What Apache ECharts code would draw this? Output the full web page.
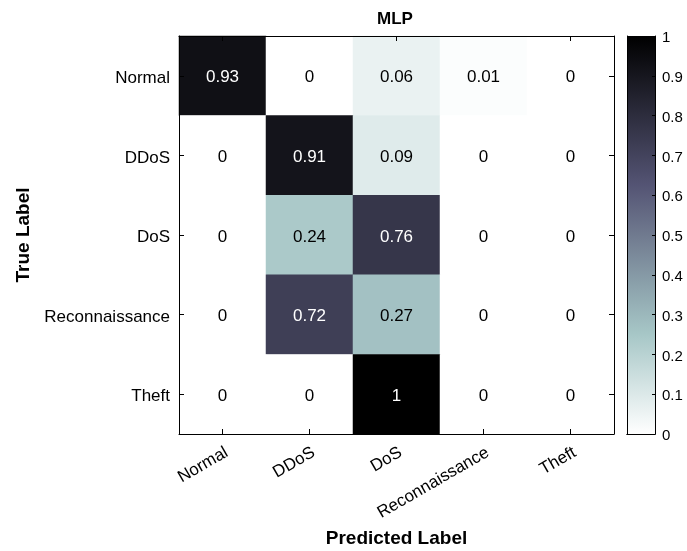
<!DOCTYPE html>
<html>
<head>
<meta charset="utf-8">
<script src="https://cdn.jsdelivr.net/npm/echarts@6/dist/echarts.min.js"></script>
<style>
html, body { margin: 0; padding: 0; background: #fff; }
#chart { width: 687px; height: 551px; }
</style>
</head>
<body>
<div id="chart"></div>
<script>
// Class names (predicted on x, true on y)
const classes = ['Normal', 'DDoS', 'DoS', 'Reconnaissance', 'Theft'];

// Row-normalised confusion matrix, one row per true class
const rowNormal         = [0.93, 0,    0.06, 0.01, 0];
const rowDDoS           = [0,    0.91, 0.09, 0,    0];
const rowDoS            = [0,    0.24, 0.76, 0,    0];
const rowReconnaissance = [0,    0.72, 0.27, 0,    0];
const rowTheft          = [0,    0,    1,    0,    0];
const matrixRows = [rowNormal, rowDDoS, rowDoS, rowReconnaissance, rowTheft];

// Colour bar scale
const colorbarMin = 0;
const colorbarMax = 1;
const colorbarStep = 0.1;

// Reversed "bone" colormap, from value 0 (white) to value 1 (black)
const boneReversed = ['#ffffff', '#d3e3e3', '#a7c7c7', '#8ba1ab', '#707a8f',
                      '#545474', '#38384d', '#1c1c26', '#000000'];

const FONT = 'Liberation Sans, Arial, Helvetica, sans-serif';

const cells = [];
matrixRows.forEach((row, yi) => {
  row.forEach((v, xi) => {
    cells.push({
      value: [xi, yi, v],
      label: { color: v > 0.5 ? '#ffffff' : '#000000' }
    });
  });
});

const gradientStops = boneReversed.map((c, i) => ({
  offset: 1 - i / (boneReversed.length - 1),
  color: c
}));

const chart = echarts.init(document.getElementById('chart'), null, { renderer: 'canvas' });

const axisLine = { show: true, lineStyle: { color: '#000', width: 1 } };
const innerTick = { show: true, inside: true, length: 5, alignWithLabel: true, lineStyle: { color: '#000' } };

chart.setOption({
  animation: false,
  backgroundColor: '#fff',
  title: {
    text: 'MLP',
    left: 372,
    top: 6,
    textStyle: { fontFamily: FONT, fontSize: 17, fontWeight: 'bold', color: '#000' }
  },
  grid: [
    { left: 179, top: 36, width: 435, height: 398, outerBoundsMode: 'none', containLabel: false },
    { left: 627, top: 36, width: 28, height: 398, outerBoundsMode: 'none', containLabel: false }
  ],
  xAxis: [
    {
      type: 'category', gridIndex: 0, data: classes, position: 'bottom', z: 5,
      axisLine: axisLine, axisTick: innerTick, splitLine: { show: false },
      axisLabel: {
        rotate: 30, fontFamily: FONT, fontSize: 17, color: '#000', margin: 10,
        align: 'right', verticalAlign: 'top'
      },
      name: 'Predicted Label', nameLocation: 'middle', nameGap: 95,
      nameTextStyle: { fontFamily: FONT, fontSize: 19, fontWeight: 'bold', color: '#000' }
    },
    {
      type: 'category', gridIndex: 0, data: classes, position: 'top', z: 5,
      axisLine: axisLine, axisTick: innerTick, axisLabel: { show: false }, splitLine: { show: false }
    },
    {
      type: 'category', gridIndex: 1, data: [''], position: 'bottom', z: 5,
      axisLine: axisLine, axisTick: { show: false }, axisLabel: { show: false }, splitLine: { show: false }
    },
    {
      type: 'category', gridIndex: 1, data: [''], position: 'top', z: 5,
      axisLine: axisLine, axisTick: { show: false }, axisLabel: { show: false }, splitLine: { show: false }
    }
  ],
  yAxis: [
    {
      type: 'category', gridIndex: 0, data: classes, inverse: true, position: 'left', z: 5,
      axisLine: axisLine, axisTick: innerTick, splitLine: { show: false },
      axisLabel: {
        margin: 9,
        formatter: v => '{t|' + v + '}',
        rich: { t: { fontFamily: FONT, fontSize: 17, color: '#000', padding: [5, 0, 0, 0] } }
      },
      name: 'True Label', nameLocation: 'middle', nameGap: 141,
      nameTextStyle: { fontFamily: FONT, fontSize: 19, fontWeight: 'bold', color: '#000' }
    },
    {
      type: 'category', gridIndex: 0, data: classes, inverse: true, position: 'right', z: 5,
      axisLine: axisLine, axisTick: innerTick, axisLabel: { show: false }, splitLine: { show: false }
    },
    {
      type: 'value', gridIndex: 1, min: colorbarMin, max: colorbarMax, interval: colorbarStep,
      position: 'right', z: 5,
      axisLine: axisLine,
      axisTick: { show: true, inside: true, length: 3, lineStyle: { color: '#000' } },
      axisLabel: {
        margin: 7,
        formatter: v => '{t|' + v + '}',
        rich: { t: { fontFamily: FONT, fontSize: 15, color: '#000', padding: [4, 0, 0, 0] } }
      },
      splitLine: { show: false }
    },
    {
      type: 'value', gridIndex: 1, min: colorbarMin, max: colorbarMax, position: 'left', z: 5,
      axisLine: axisLine, axisTick: { show: false }, axisLabel: { show: false }, splitLine: { show: false }
    }
  ],
  visualMap: {
    type: 'continuous', show: false, seriesIndex: 0,
    min: colorbarMin, max: colorbarMax,
    inRange: { color: boneReversed }
  },
  series: [
    {
      type: 'heatmap', xAxisIndex: 0, yAxisIndex: 0,
      data: cells,
      label: {
        show: true, fontFamily: FONT, fontSize: 17, offset: [0, 2],
        formatter: p => String(p.value[2])
      },
      itemStyle: { borderWidth: 0 },
      emphasis: { disabled: true }
    },
    {
      type: 'bar', xAxisIndex: 2, yAxisIndex: 2,
      data: [colorbarMax], barWidth: '100%', silent: true,
      itemStyle: {
        color: new echarts.graphic.LinearGradient(0, 0, 0, 1, gradientStops)
      }
    }
  ]
});
</script>
</body>
</html>
